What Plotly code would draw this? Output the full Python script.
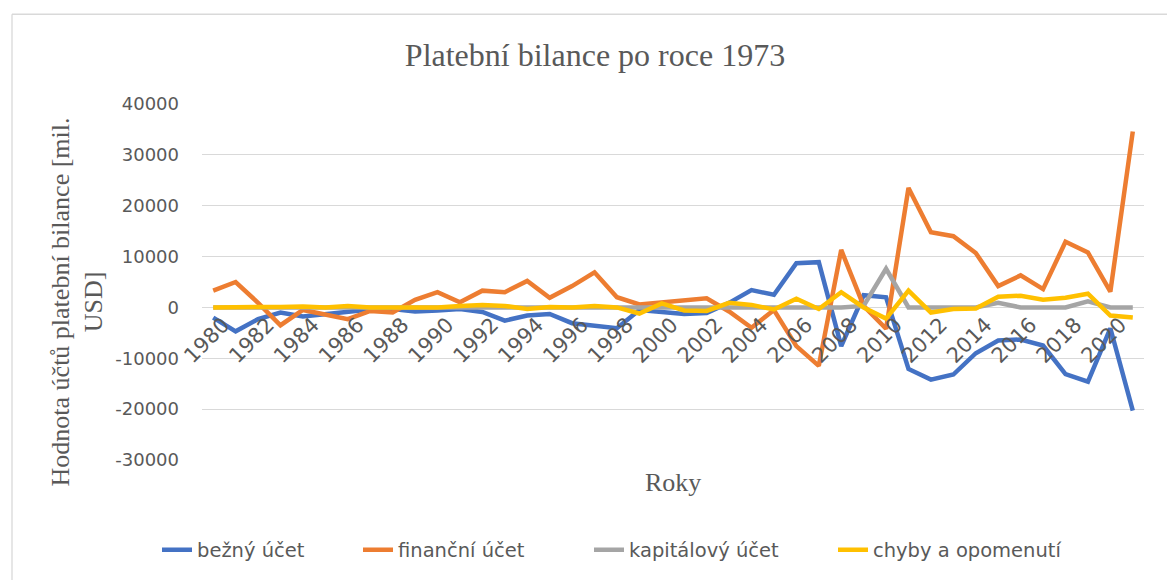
import plotly.graph_objects as go

# Roky 1980–2021
years = list(range(1980, 2022))

bezny_ucet = [
    -2000, -4700, -2300, -1000, -1800, -1400, -900, -400, -300, -800,
    -600, -300, -900, -2600, -1600, -1300, -3100, -3700, -4100, -500,
    -800, -1300, -1100, 900, 3400, 2500, 8700, 8900, -7600, 2400,
    2000, -12100, -14200, -13200, -9000, -6500, -6300, -7500, -13100, -14600,
    -4100, -20300,
]
financni_ucet = [
    3300, 5000, 900, -3500, -500, -1300, -2300, -700, -1000, 1500,
    3000, 1000, 3300, 3000, 5200, 1900, 4200, 6900, 2000, 600,
    1000, 1600, 1800, -800, -4000, -500, -7600, -11500, 11300, 300,
    -4200, 23500, 14800, 14000, 10700, 4200, 6300, 3600, 12900, 10800,
    3100, 34600,
]
kapitalovy_ucet = [
    0, 0, 0, 0, 0, 0, 0, 0, 0, 0,
    0, 0, 0, 0, 0, 0, 0, 0, 0, 0,
    0, 0, 0, 0, 0, 0, 0, 0, 0, 300,
    7600, 0, 0, 0, 0, 900, 0, 0, 0, 1200,
    0, 0,
]
chyby_opomenuti = [
    0, 0, -100, 100, 200, 0, 300, 0, 0, 0,
    0, 300, 500, 300, -300, 100, 0, 300, 0, -1200,
    800, -600, -700, 900, 500, -400, 1700, -300, 3000, 0,
    -2200, 3300, -1000, -300, -200, 2100, 2300, 1500, 1900, 2700,
    -1600, -2000,
]

series = [
    ("bežný účet", bezny_ucet, "#4472C4"),
    ("finanční účet", financni_ucet, "#ED7D31"),
    ("kapitálový účet", kapitalovy_ucet, "#A5A5A5"),
    ("chyby a opomenutí", chyby_opomenuti, "#FFC000"),
]

y_ticks = list(range(-30000, 40001, 10000))
x_ticks = list(range(1980, 2021, 2))

Y_MIN, Y_MAX = -30000, 40000

sans = "DejaVu Sans"
serif = "Liberation Serif"
grey_text = "#595959"

# plot area in pixels: left 202, right 1144, top 104, bottom 461
W, H = 1167, 580
L, R, T, B = 202, 1144, 104, 461
pw, ph = R - L, B - T

# left pixel of each legend entry's text
legend_text_px = [198, 399, 630, 874]

fig = go.Figure()
legends = {}
for i, (name, vals, color) in enumerate(series):
    key = "legend" if i == 0 else f"legend{i + 1}"
    fig.add_trace(go.Scatter(
        x=years, y=vals, name=name, mode="lines",
        line=dict(color=color, width=4.5),
        legend=key,
    ))
    legends[key] = dict(
        orientation="h",
        x=(legend_text_px[i] - 41 - L) / pw, xanchor="left",
        y=(B - 550) / ph, yanchor="middle",
        font=dict(family=sans, size=19.5, color=grey_text),
        bgcolor="rgba(0,0,0,0)",
    )

fig.update_layout(
    width=W, height=H,
    margin=dict(l=L, r=W - R, t=T, b=H - B),
    paper_bgcolor="white", plot_bgcolor="white",
    title=dict(
        text="Platební bilance po roce 1973",
        font=dict(family=serif, size=32, color=grey_text),
        x=595 / W, xref="container", xanchor="center",
        y=1 - 55 / H, yref="container", yanchor="middle",
    ),
    showlegend=True,
    xaxis=dict(
        range=[1979.5, 2021.5],
        tickmode="array", tickvals=x_ticks, ticktext=[str(v) for v in x_ticks],
        tickangle=-45, tickfont=dict(family=sans, size=21, color=grey_text),
        ticklabelshift=10,
        showgrid=False, showline=False, zeroline=False, ticks="",
        anchor="free",
        position=(0 - Y_MIN) / (Y_MAX - Y_MIN),
    ),
    yaxis=dict(
        range=[Y_MIN, Y_MAX],
        tickmode="array", tickvals=y_ticks, ticktext=[str(v) for v in y_ticks],
        tickfont=dict(family=sans, size=18, color=grey_text),
        showgrid=True, gridcolor="#D9D9D9", gridwidth=1.3,
        zeroline=True, zerolinecolor="#D9D9D9", zerolinewidth=1.3,
        showline=False, ticks="",
        ticklabelstandoff=22,
    ),
    **legends,
)

# y-axis title
fig.add_annotation(
    text="Hodnota účtů platební bilance [mil.<br>USD]",
    xref="paper", yref="paper",
    x=(77 - L) / pw, y=(B - 303) / ph, xanchor="center", yanchor="middle",
    textangle=-90, showarrow=False,
    font=dict(family=serif, size=26, color=grey_text),
)

# x-axis title below the plot area
fig.add_annotation(
    text="Roky", xref="paper", yref="paper",
    x=0.5, y=(B - 484) / ph, xanchor="center", yanchor="middle",
    showarrow=False, font=dict(family=serif, size=26, color=grey_text),
)

# chart-area border (top and left edges)
x0 = (12 - L) / pw
y_top = 1 + (T - 14) / ph
fig.add_shape(type="line", xref="paper", yref="paper",
              x0=x0, x1=(W + 5 - L) / pw, y0=y_top, y1=y_top,
              line=dict(color="#D9D9D9", width=1.3))
fig.add_shape(type="line", xref="paper", yref="paper",
              x0=x0, x1=x0, y0=y_top, y1=(B - H - 5) / ph,
              line=dict(color="#D9D9D9", width=1.3))

fig.write_html("out.html")
